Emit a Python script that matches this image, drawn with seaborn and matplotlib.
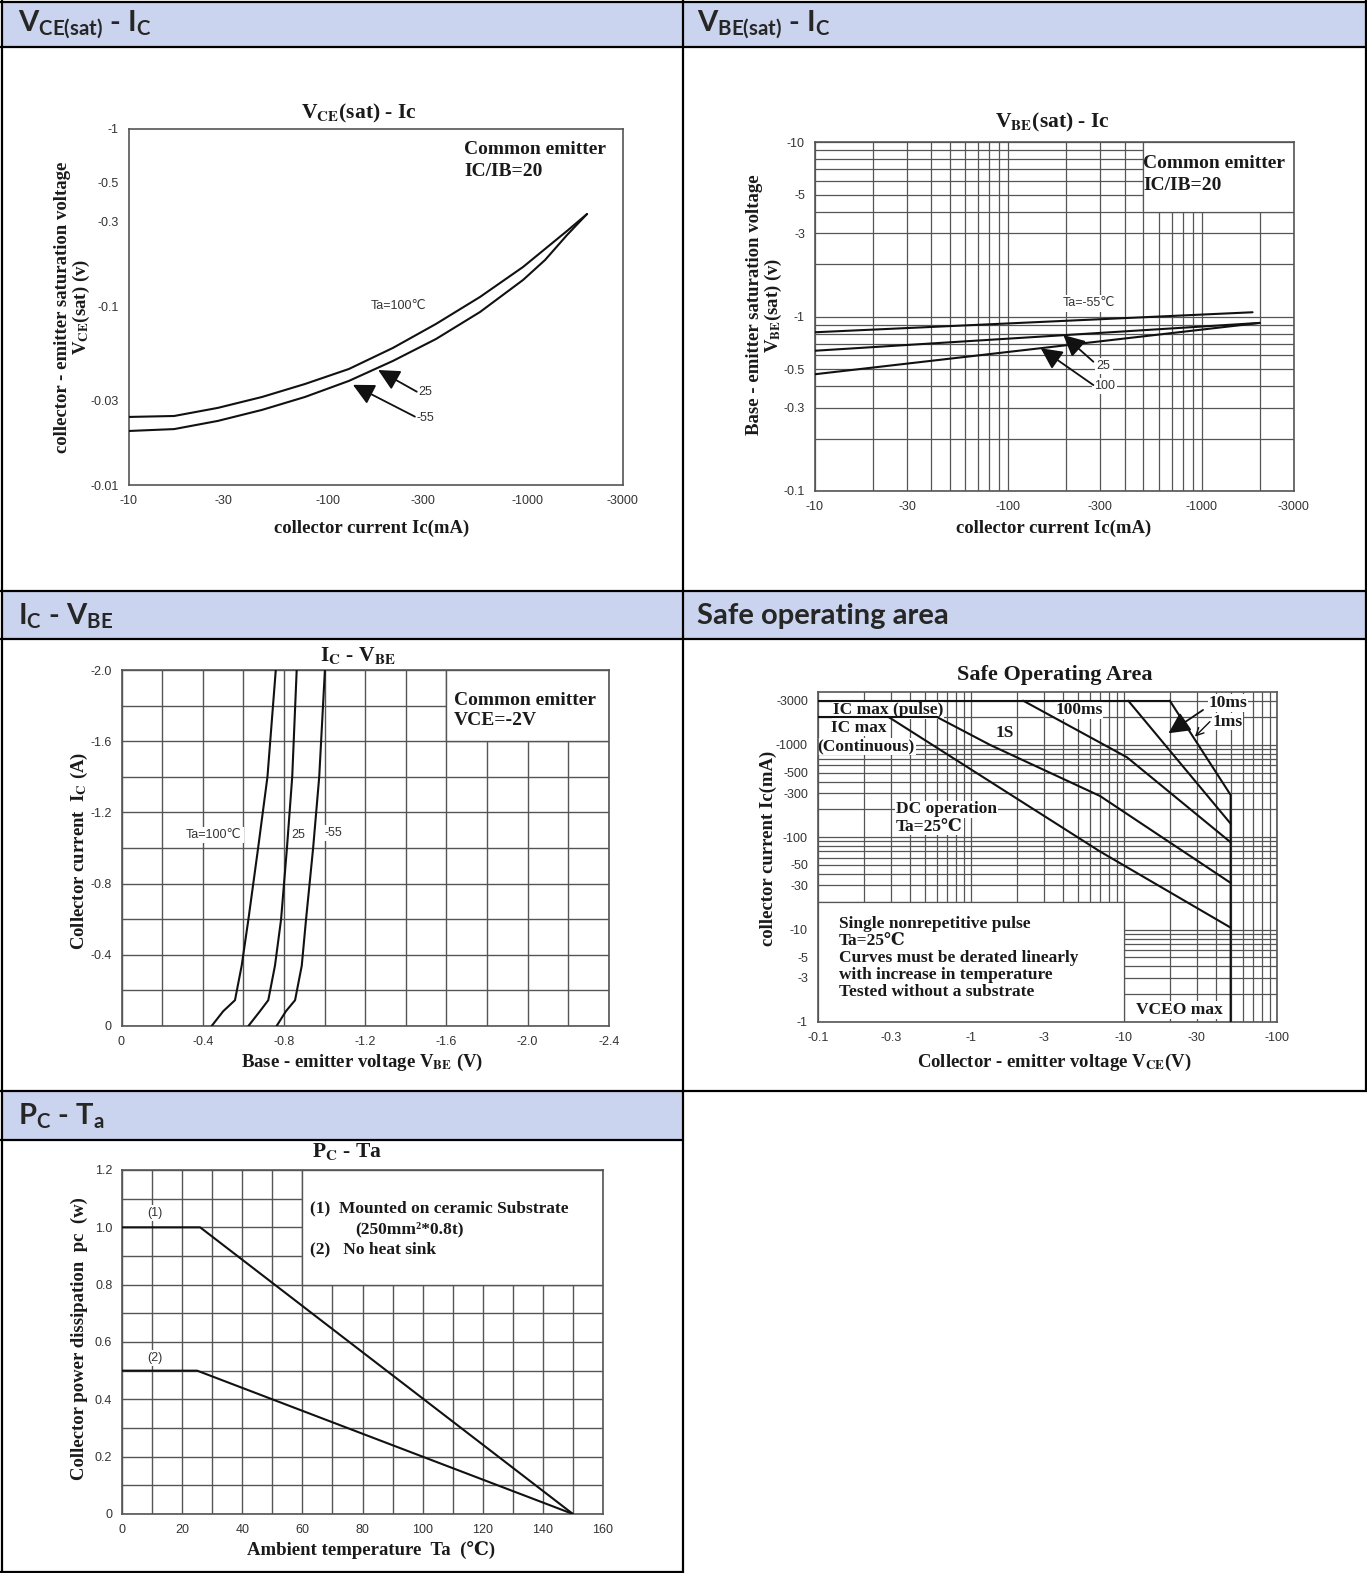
import numpy as np
import pandas as pd
import seaborn as sns
import matplotlib.pyplot as plt
from matplotlib.patches import Rectangle
from matplotlib.lines import Line2D
from matplotlib.ticker import LogLocator, MultipleLocator, NullFormatter

W, H = 1367, 1573

# ---- VCE(sat) - Ic  (magnitudes, mA / V) ----
vce_ic_hot = [10, 16.9, 28, 46.6, 76.5, 127, 211, 347, 577, 948, 1574, 1983]
vce_sat_hot = [0.0241, 0.0244, 0.0271, 0.0312, 0.0369, 0.0448, 0.0588, 0.0802, 0.1137, 0.1675, 0.2667, 0.332]
vce_ic_cold = [10, 16.9, 28, 46.6, 76.5, 127, 211, 347, 577, 948, 1222, 1574, 1983]
vce_sat_cold = [0.0201, 0.0206, 0.0229, 0.0264, 0.0312, 0.0384, 0.0497, 0.0660, 0.0936, 0.1416, 0.1833, 0.253, 0.332]

# ---- VBE(sat) - Ic ----
vbe_ic_m55 = [10, 1836]
vbe_sat_m55 = [0.813, 1.059]
vbe_ic = [10, 2000]
vbe_sat_25 = [0.637, 0.92]
vbe_sat_100 = [0.467, 0.92]

# ---- Ic - VBE ----
ic_amp = [0, 0.083, 0.145, 0.339, 0.598, 1.0, 1.4, 2.0]
vbe_t100 = [0.444, 0.501, 0.559, 0.592, 0.625, 0.673, 0.719, 0.760]
vbe_t25 = [0.625, 0.682, 0.723, 0.756, 0.786, 0.815, 0.841, 0.863]
vbe_tm55 = [0.764, 0.810, 0.855, 0.888, 0.909, 0.944, 0.974, 1.002]

# ---- Safe operating area (V, mA) ----
pulse_v, pulse_i = [0.1, 20], [3000, 3000]
cont_v, cont_i = [0.1, 0.6], [2000, 2000]
ms1_v, ms1_i = [20, 50, 50], [3000, 286, 1]
ms10_v, ms10_i = [10.7, 50], [3000, 140]
ms100_v, ms100_i = [2.2, 10.5, 50], [3000, 732, 88]
s1_v, s1_i = [0.6, 1.34, 7.0, 50], [2000, 995, 279, 32]
dc_v, dc_i = [0.29, 7.0, 50], [2000, 70, 10.5]

# ---- Pc - Ta ----
ta_1, pc_1 = [0, 26, 150], [1.0, 1.0, 0]
ta_2, pc_2 = [0, 25, 150], [0.5, 0.5, 0]

ic_ticks = [10, 30, 100, 300, 1000, 3000]
vce_ticks = [1, 0.5, 0.3, 0.1, 0.03, 0.01]
vbe_ticks = [10, 5, 3, 1, 0.5, 0.3, 0.1]
lin_v_ticks = [0, 0.4, 0.8, 1.2, 1.6, 2.0, 2.4]
lin_i_ticks = [0, 0.4, 0.8, 1.2, 1.6, 2.0]
soa_v_ticks = [0.1, 0.3, 1, 3, 10, 30, 100]
soa_i_ticks = [3000, 1000, 500, 300, 100, 50, 30, 10, 5, 3, 1]
ta_ticks = [0, 20, 40, 60, 80, 100, 120, 140, 160]
pc_ticks = [0, 0.2, 0.4, 0.6, 0.8, 1.0, 1.2]


def neg(vals, fmt='%g'):
    return ['0' if v == 0 else '-' + fmt % v for v in vals]


sns.set_theme(style='white')
SERIF = ['Liberation Serif', 'DejaVu Serif']
SANS = ['Liberation Sans', 'DejaVu Sans']
plt.rcParams['font.family'] = SERIF
plt.rcParams['mathtext.fontset'] = 'custom'
plt.rcParams['mathtext.rm'] = 'Lato:bold'
plt.rcParams['mathtext.it'] = 'Lato:bold'
plt.rcParams['mathtext.bf'] = 'Lato:bold'

fig = plt.figure(figsize=(W / 100, H / 100), dpi=100)
fig.patch.set_facecolor('white')


def rect(l, t, r, b):
    return [l / W, 1 - b / H, (r - l) / W, (b - t) / H]


def ftext(x, y, s, **kw):
    return fig.text(x / W, 1 - y / H, s, **kw)


def fline(xs, ys):
    fig.add_artist(Line2D([x / W for x in xs], [1 - y / H for y in ys], color='black', lw=1.6))


# ---- table ----
HEAD = '#CBD4EE'
for (x0, y0, x1, y1) in [(1, 1.5, 683, 47), (683, 1.5, 1366, 47), (1, 591, 683, 639),
                         (683, 591, 1366, 639), (1, 1091, 683, 1140)]:
    fig.add_artist(Rectangle((x0 / W, 1 - y1 / H), (x1 - x0) / W, (y1 - y0) / H,
                             transform=fig.transFigure, fc=HEAD, ec='none', zorder=0))
for y in [1.5, 47, 591, 639, 1091]:
    fline([0, 1367], [y, y])
fline([0, 683], [1140, 1140])
fline([0, 683], [1571.5, 1571.5])
fline([1.5, 1.5], [0, 1573])
fline([683, 683], [0, 1573])
fline([1365.5, 1365.5], [0, 1091])

hkw = dict(family='Lato', weight='bold', fontsize=21, va='center', ha='left')
ftext(18, 25, r'V$_{\mathrm{CE(sat)}}$ - I$_{\mathrm{C}}$', **hkw)
ftext(697, 25, r'V$_{\mathrm{BE(sat)}}$ - I$_{\mathrm{C}}$', **hkw)
ftext(18, 616, r'I$_{\mathrm{C}}$ - V$_{\mathrm{BE}}$', **hkw)
ftext(697, 616, 'Safe operating area', **hkw)
ftext(18, 1116, r'P$_{\mathrm{C}}$ - T$_{\mathrm{a}}$', **hkw)

bkw = dict(family=SERIF, weight='bold', math_fontfamily='stix', color='#1a1a1a')
WHITE = dict(facecolor='white', edgecolor='none', pad=1.5)


def style(ax):
    ax.set_xlabel('')
    ax.set_ylabel('')
    for s in ax.spines.values():
        s.set_visible(True)
        s.set_color('#555555')
        s.set_linewidth(1.2)
    ax.tick_params(which='both', length=0, labelsize=9, labelcolor='#333333', pad=7,
                   labelfontfamily='Liberation Sans')
    ax.set_axisbelow(True)


def curve(ax, x, y):
    sns.lineplot(x=x, y=y, ax=ax, color='#111111', lw=1.5, sort=False, estimator=None, zorder=3)


def arrow(ax, tip, tail, big=True):
    st = '-|>,head_length=1.0,head_width=0.5' if big else '->,head_length=0.6,head_width=0.3'
    ax.annotate('', xy=tip, xytext=tail, zorder=4,
                arrowprops=dict(arrowstyle=st, mutation_scale=13 if big else 9, color='#111111',
                                lw=1.3 if big else 1.0, shrinkA=0, shrinkB=0))


def log_grid(ax):
    for axis in (ax.xaxis, ax.yaxis):
        axis.set_minor_locator(LogLocator(base=10, subs=np.arange(2, 10), numticks=30))
        axis.set_minor_formatter(NullFormatter())
    ax.grid(True, which='both', color='#555555', lw=0.9)


# ---- panel 1: VCE(sat) - Ic ----
ax1 = fig.add_axes(rect(128.7, 128.7, 622.9, 485))
ax1.set_xscale('log')
ax1.set_yscale('log')
curve(ax1, vce_ic_hot, vce_sat_hot)
curve(ax1, vce_ic_cold, vce_sat_cold)
ax1.set_xlim(10, 3000)
ax1.set_ylim(0.01, 1)
ax1.set_xticks(ic_ticks, labels=neg(ic_ticks))
ax1.set_yticks(vce_ticks, labels=neg(vce_ticks))
ax1.xaxis.set_minor_locator(plt.NullLocator())
ax1.yaxis.set_minor_locator(plt.NullLocator())
style(ax1)
ax1.text(163, 0.1017, 'Ta=100℃', family=SANS, fontsize=9, color='#333333', va='center')
arrow(ax1, (178, 0.0442), (278, 0.0334))
arrow(ax1, (133, 0.0365), (272, 0.0242))
ax1.text(282, 0.0332, '25', family=SANS, fontsize=9, color='#333333', va='center')
ax1.text(278, 0.0238, '-55', family=SANS, fontsize=9, color='#333333', va='center')
ax1.text(0.679, 0.941, 'Common emitter', transform=ax1.transAxes, fontsize=14, va='center', **bkw)
ax1.text(0.679, 0.881, 'IC/IB=20', transform=ax1.transAxes, fontsize=14, va='center', **bkw)
ftext(359, 113, r'V$_{\mathbf{CE}}$(sat) - Ic', ha='center', va='center', fontsize=15.5, **bkw)
ftext(372, 528, 'collector current Ic(mA)', ha='center', va='center', fontsize=13.5, **bkw)
ftext(73, 307, 'collector - emitter saturation voltage\n' + r'V$_{\mathbf{CE}}$(sat) (v)',
      ha='center', va='center', rotation=90, fontsize=13.5, linespacing=1.05, multialignment='center', **bkw)

# ---- panel 2: VBE(sat) - Ic ----
ax2 = fig.add_axes(rect(814.7, 142.2, 1293.8, 491))
ax2.set_xscale('log')
ax2.set_yscale('log')
log_grid(ax2)
ax2.add_patch(Rectangle((500, 4), 2500, 6, fc='white', ec='#555555', lw=0.9, zorder=1))
curve(ax2, vbe_ic_m55, vbe_sat_m55)
curve(ax2, vbe_ic, vbe_sat_25)
curve(ax2, vbe_ic, vbe_sat_100)
ax2.set_xlim(10, 3000)
ax2.set_ylim(0.1, 10)
ax2.set_xticks(ic_ticks, labels=neg(ic_ticks))
ax2.set_yticks(vbe_ticks, labels=neg(vbe_ticks))
style(ax2)
ax2.text(260, 1.19, 'Ta=-55℃', family=SANS, fontsize=9, color='#333333', ha='center', va='center', bbox=WHITE, zorder=3)
arrow(ax2, (193, 0.784), (276, 0.551))
arrow(ax2, (147.5, 0.658), (276, 0.405))
ax2.text(287, 0.52, '25', family=SANS, fontsize=9, color='#333333', va='center', bbox=WHITE, zorder=3)
ax2.text(278, 0.40, '100', family=SANS, fontsize=9, color='#333333', va='center', bbox=WHITE, zorder=3)
ax2.text(0.686, 0.940, 'Common emitter', transform=ax2.transAxes, fontsize=14, va='center', zorder=3, **bkw)
ax2.text(0.686, 0.877, 'IC/IB=20', transform=ax2.transAxes, fontsize=14, va='center', zorder=3, **bkw)
ftext(1052, 122, r'V$_{\mathbf{BE}}$(sat) - Ic', ha='center', va='center', fontsize=15.5, **bkw)
ftext(1054, 528, 'collector current Ic(mA)', ha='center', va='center', fontsize=13.5, **bkw)
ftext(765, 305, 'Base - emitter saturation voltage\n' + r'V$_{\mathbf{BE}}$(sat) (v)',
      ha='center', va='center', rotation=90, fontsize=13.5, linespacing=1.05, multialignment='center', **bkw)

# ---- panel 3: Ic - VBE ----
ax3 = fig.add_axes(rect(121.5, 670, 608.7, 1026))
ax3.xaxis.set_minor_locator(MultipleLocator(0.2))
ax3.yaxis.set_minor_locator(MultipleLocator(0.2))
ax3.grid(True, which='both', color='#555555', lw=1.0)
ax3.add_patch(Rectangle((1.6, 1.6), 0.8, 0.4, fc='white', ec='#555555', lw=1.0, zorder=1))
curve(ax3, vbe_t100, ic_amp)
curve(ax3, vbe_t25, ic_amp)
curve(ax3, vbe_tm55, ic_amp)
ax3.set_xlim(0, 2.4)
ax3.set_ylim(0, 2.0)
ax3.set_xticks(lin_v_ticks, labels=neg(lin_v_ticks, '%.1f'))
ax3.set_yticks(lin_i_ticks, labels=neg(lin_i_ticks, '%.1f'))
style(ax3)
ax3.text(0.454, 1.073, 'Ta=100℃', family=SANS, fontsize=9, color='#333333', ha='center', va='center', bbox=WHITE, zorder=2)
ax3.text(0.873, 1.073, '25', family=SANS, fontsize=9, color='#333333', ha='center', va='center', bbox=WHITE, zorder=2)
ax3.text(1.045, 1.084, '-55', family=SANS, fontsize=9, color='#333333', ha='center', va='center', bbox=WHITE, zorder=2)
ax3.text(0.682, 0.913, 'Common emitter', transform=ax3.transAxes, fontsize=14, va='center', zorder=3, **bkw)
ax3.text(0.682, 0.858, 'VCE=-2V', transform=ax3.transAxes, fontsize=14, va='center', zorder=3, **bkw)
ftext(358, 655, r'I$_{\mathbf{C}}$ - V$_{\mathbf{BE}}$', ha='center', va='center', fontsize=15.5, **bkw)
ftext(362, 1062, r'Base - emitter voltage V$_{\mathbf{BE}}$ (V)', ha='center', va='center', fontsize=13.5, **bkw)
ftext(79, 851, r'Collector current  I$_{\mathbf{C}}$ (A)', ha='center', va='center', rotation=90, fontsize=13.5, **bkw)

# ---- panel 4: Safe operating area ----
ax4 = fig.add_axes(rect(817.7, 691.7, 1276.7, 1022))
ax4.set_xscale('log')
ax4.set_yscale('log')
log_grid(ax4)
ax4.add_patch(Rectangle((0.1, 1), 9.9, 19, fc='white', ec='#555555', lw=0.9, zorder=1))
for v, i in [(pulse_v, pulse_i), (cont_v, cont_i), (ms1_v, ms1_i), (ms10_v, ms10_i),
             (ms100_v, ms100_i), (s1_v, s1_i), (dc_v, dc_i)]:
    curve(ax4, v, i)
ax4.set_xlim(0.1, 100)
ax4.set_ylim(1, 3750)
ax4.set_xticks(soa_v_ticks, labels=neg(soa_v_ticks))
ax4.set_yticks(soa_i_ticks, labels=neg(soa_i_ticks))
style(ax4)
skw = dict(fontsize=12.5, va='center', zorder=2, bbox=dict(facecolor='white', edgecolor='none', pad=0.5), **bkw)
ax4.text(0.125, 2380, 'IC max (pulse)', **skw)
ax4.text(0.122, 1531, 'IC max', **skw)
ax4.text(0.1, 954, '(Continuous)', **skw)
ax4.text(1.66, 1342, '1S', ha='center', **skw)
ax4.text(5.1, 2380, '100ms', ha='center', **skw)
ax4.text(48, 2834, '10ms', ha='center', **skw)
ax4.text(47.7, 1778, '1ms', ha='center', **skw)
ax4.text(0.325, 200, 'DC operation', **skw)
ax4.text(0.325, 130, 'Ta=25℃', **skw)
ax4.text(23, 1.35, 'VCEO max', ha='center', **skw)
arrow(ax4, (19.6, 1331), (33, 2380))
arrow(ax4, (29.2, 1224), (36.6, 1778), big=False)
ax4.text(0.0455, 0.322, 'Single nonrepetitive pulse\nTa=25℃\nCurves must be derated linearly\n'
         'with increase in temperature\nTested without a substrate',
         transform=ax4.transAxes, fontsize=12.5, va='top', linespacing=1.1, zorder=3, **bkw)
ftext(1055, 675, 'Safe Operating Area', ha='center', va='center', fontsize=16, **bkw)
ftext(1054, 1062, r'Collector - emitter voltage V$_{\mathbf{CE}}$(V)', ha='center', va='center', fontsize=13.5, **bkw)
ftext(768, 848, 'collector current Ic(mA)', ha='center', va='center', rotation=90, fontsize=13.5, **bkw)

# ---- panel 5: Pc - Ta ----
ax5 = fig.add_axes(rect(122, 1170, 603, 1514))
ax5.xaxis.set_minor_locator(MultipleLocator(10))
ax5.yaxis.set_minor_locator(MultipleLocator(0.1))
ax5.grid(True, which='both', color='#555555', lw=1.0)
ax5.add_patch(Rectangle((60, 0.8), 100, 0.4, fc='white', ec='#555555', lw=1.0, zorder=1))
curve(ax5, ta_1, pc_1)
curve(ax5, ta_2, pc_2)
ax5.set_xlim(0, 160)
ax5.set_ylim(0, 1.2)
ax5.set_xticks(ta_ticks, labels=[str(t) for t in ta_ticks])
ax5.set_yticks(pc_ticks, labels=['0' if p == 0 else '%.1f' % p for p in pc_ticks])
style(ax5)
ax5.text(10.9, 1.049, '(1)', family=SANS, fontsize=9, color='#333333', ha='center', va='center', bbox=WHITE, zorder=2)
ax5.text(10.9, 0.544, '(2)', family=SANS, fontsize=9, color='#333333', ha='center', va='center', bbox=WHITE, zorder=2)
ax5.text(62.7, 1.066, '(1)  Mounted on ceramic Substrate', fontsize=12.5, va='center', zorder=3, **bkw)
ax5.text(77.7, 0.993, '(250mm²*0.8t)', fontsize=12.5, va='center', zorder=3, **bkw)
ax5.text(62.7, 0.924, '(2)   No heat sink', fontsize=12.5, va='center', zorder=3, **bkw)
ftext(347, 1151, r'P$_{\mathbf{C}}$ - Ta', ha='center', va='center', fontsize=15.5, **bkw)
ftext(371, 1550, 'Ambient temperature  Ta  (℃)', ha='center', va='center', fontsize=13.5, **bkw)
ftext(79, 1339, 'Collector power dissipation  pc  (w)', ha='center', va='center', rotation=90, fontsize=13.5, **bkw)

fig.savefig('out.png', dpi=100, facecolor='white')
